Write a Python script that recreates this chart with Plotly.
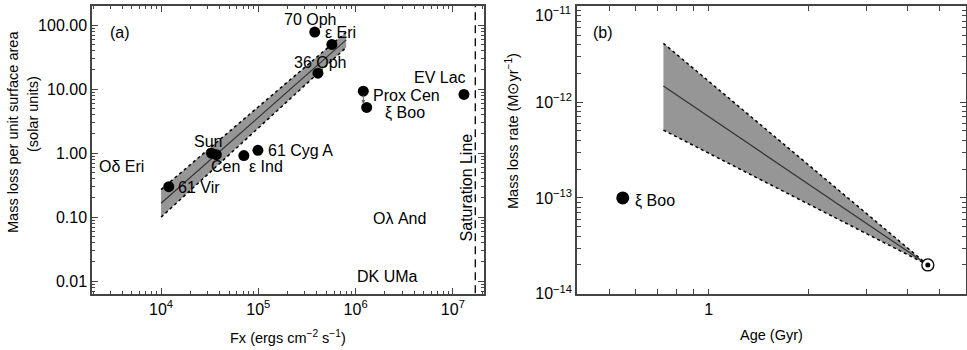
import math
import plotly.graph_objects as go

# ---------------- Panel (a) data ----------------
a_names = ["70 Oph", "ε Eri", "36 Oph", "Prox Cen", "ξ Boo", "EV Lac",
           "Sun", "Cen", "ε Ind", "61 Cyg A", "61 Vir"]
a_fx = [3.8e5, 5.7e5, 4.1e5, 1.2e6, 1.3e6, 1.3e7, 3.3e4, 3.7e4, 7.1e4, 9.9e4, 1.2e4]
a_mdot = [78, 50, 17.8, 9.3, 5.2, 8.3, 1.0, 0.95, 0.92, 1.11, 0.30]

fit_fx = [1e4, 8e5]
fit_mid = [0.165, 59]
fit_lo = [0.10, 45]
fit_hi = [0.27, 78]

saturation_fx = 1.7e7

# text-only stars: (label, Fx, mass loss)
a_text_names = ["Oδ Eri", "Oλ And", "DK UMa"]
a_text_fx = [10**3.59, 10**6.45, 10**6.33]
a_text_mdot = [10**-0.2, 10**-1.02, 10**-1.92]

a_ytick_vals = [0.01, 0.1, 1, 10, 100]
a_ytick_text = ["0.01", "0.10", "1.00", "10.00", "100.00"]
a_xtick_vals = [1e4, 1e5, 1e6, 1e7]
a_xtick_text = ["10<sup>4</sup>", "10<sup>5</sup>", "10<sup>6</sup>", "10<sup>7</sup>"]

# ---------------- Panel (b) data ----------------
b_fit_age = [0.73, 4.6]
b_fit_mid = [1.47e-12, 2.0e-14]
b_fit_hi = [4.1e-12, 2.0e-14]
b_fit_lo = [5.1e-13, 2.0e-14]

b_xi_age = [0.55]
b_xi_mdot = [1.0e-13]
b_sun_age = [4.6]
b_sun_mdot = [2.0e-14]

b_ytick_vals = [1e-14, 1e-13, 1e-12, 1e-11]
b_ytick_text = ["10<sup>−14</sup>", "10<sup>−13</sup>", "10<sup>−12</sup>", "10<sup>−11</sup>"]
b_xtick_vals = [1]
b_xtick_text = ["1"]

# ---------------- styling ----------------
FONT = "Liberation Sans, Arial, Helvetica, sans-serif"
BAND = "rgb(150,150,150)"
AXC = "#444444"

fig = go.Figure()

# Panel (a) band
fig.add_trace(go.Scatter(x=fit_fx + fit_fx[::-1], y=fit_hi + fit_lo[::-1],
                         fill="toself", fillcolor=BAND, line=dict(width=0),
                         mode="lines", hoverinfo="skip", xaxis="x", yaxis="y"))
for edge in (fit_hi, fit_lo):
    fig.add_trace(go.Scatter(x=fit_fx, y=edge, mode="lines",
                             line=dict(color="black", width=1.5, dash="dot"),
                             xaxis="x", yaxis="y"))
fig.add_trace(go.Scatter(x=fit_fx, y=fit_mid, mode="lines",
                         line=dict(color="#333333", width=1.2), xaxis="x", yaxis="y"))
# saturation line
fig.add_trace(go.Scatter(x=[saturation_fx, saturation_fx], y=[1e-3, 1e3], mode="lines",
                         line=dict(color="black", width=1.3, dash="8px,5px"),
                         xaxis="x", yaxis="y"))
# points
fig.add_trace(go.Scatter(x=a_fx, y=a_mdot, mode="markers",
                         marker=dict(color="black", size=11),
                         xaxis="x", yaxis="y"))

# Panel (b) band
fig.add_trace(go.Scatter(x=b_fit_age + b_fit_age[::-1], y=b_fit_hi + b_fit_lo[::-1],
                         fill="toself", fillcolor=BAND, line=dict(width=0),
                         mode="lines", hoverinfo="skip", xaxis="x2", yaxis="y2"))
for edge in (b_fit_hi, b_fit_lo):
    fig.add_trace(go.Scatter(x=b_fit_age, y=edge, mode="lines",
                             line=dict(color="black", width=1.5, dash="dot"),
                             xaxis="x2", yaxis="y2"))
fig.add_trace(go.Scatter(x=b_fit_age, y=b_fit_mid, mode="lines",
                         line=dict(color="#333333", width=1.2), xaxis="x2", yaxis="y2"))
fig.add_trace(go.Scatter(x=b_xi_age, y=b_xi_mdot, mode="markers",
                         marker=dict(color="black", size=13), xaxis="x2", yaxis="y2"))
fig.add_trace(go.Scatter(x=b_sun_age, y=b_sun_mdot, mode="markers",
                         marker=dict(color="white", size=12, line=dict(color="black", width=1.3)),
                         xaxis="x2", yaxis="y2"))
fig.add_trace(go.Scatter(x=b_sun_age, y=b_sun_mdot, mode="markers",
                         marker=dict(color="black", size=5), xaxis="x2", yaxis="y2"))

# ---------------- annotations ----------------
ann = []
lg = math.log10
TXT = dict(size=16, color="black", family=FONT)
TTL = dict(size=14.5, color="black", family=FONT)
# label offsets (pixels): name -> (xanchor, xshift, yshift)
a_label_pos = {
    "70 Oph": ("center", -5, 13),
    "ε Eri": ("left", -9, 12),
    "36 Oph": ("center", 2, 11),
    "Prox Cen": ("left", 8, -4),
    "ξ Boo": ("left", 16, -6),
    "EV Lac": ("right", 4, 17),
    "Sun": ("center", -4, 12),
    "Cen": ("center", 9, -12),
    "ε Ind": ("left", 3, -11),
    "61 Cyg A": ("left", 8, 0),
    "61 Vir": ("left", 7, -1),
}
for name, fx, md in zip(a_names, a_fx, a_mdot):
    xa, xs, ys = a_label_pos[name]
    ann.append(dict(x=lg(fx), y=lg(md), xref="x", yref="y", text=name, showarrow=False,
                    xanchor=xa, yanchor="middle", xshift=xs, yshift=ys, font=TXT))
for name, fx, md in zip(a_text_names, a_text_fx, a_text_mdot):
    ann.append(dict(x=lg(fx), y=lg(md), xref="x", yref="y", text=name, showarrow=False,
                    xanchor="center", yanchor="middle", font=TXT))
# Prox Cen down arrow
prox_i = a_names.index("Prox Cen")
ann.append(dict(x=lg(a_fx[prox_i]), y=lg(a_mdot[prox_i]) - 0.2, xref="x", yref="y",
                text="", showarrow=True, ax=0, ay=-10, arrowhead=2, arrowsize=0.8,
                arrowwidth=1, arrowcolor="#666666"))
# Saturation line label
ann.append(dict(x=lg(saturation_fx), y=lg(1.0) - 0.53, xref="x", yref="y", text="Saturation Line",
                showarrow=False, textangle=-90, xanchor="center", yanchor="middle", xshift=-9,
                font=TXT))
# panel letters
ann.append(dict(x=0.124, y=0.908, xref="paper", yref="paper", text="(a)", showarrow=False,
                xanchor="center", yanchor="middle", font=TXT))
ann.append(dict(x=0.6235, y=0.908, xref="paper", yref="paper", text="(b)", showarrow=False,
                xanchor="center", yanchor="middle", font=TXT))
# xi Boo in panel b
ann.append(dict(x=lg(b_xi_age[0]), y=lg(b_xi_mdot[0]), xref="x2", yref="y2", text="ξ Boo",
                showarrow=False, xanchor="left", yanchor="middle", xshift=10, yshift=-3,
                font=TXT))
# top tick label of panel (b), nudged down so it stays inside the page
ann.append(dict(x=lg(0.4), y=lg(b_ytick_vals[-1]), xref="x2", yref="y2", text=b_ytick_text[-1],
                showarrow=False, xanchor="right", yanchor="top", xshift=-4, yshift=4,
                font=TXT))
# axis titles
ann.append(dict(x=13 / 967, y=1 - 132 / 350, xref="paper", yref="paper",
                text="Mass loss per unit surface area", showarrow=False,
                textangle=-90, xanchor="center", yanchor="middle", font=TTL))
ann.append(dict(x=33 / 967, y=1 - 114 / 350, xref="paper", yref="paper",
                text="(solar units)", showarrow=False,
                textangle=-90, xanchor="center", yanchor="middle", font=TTL))
ann.append(dict(x=288 / 967, y=13 / 350, xref="paper", yref="paper",
                text="Fx (ergs cm<sup>−2</sup> s<sup>−1</sup>)", showarrow=False,
                xanchor="center", yanchor="middle", font=TTL))
ann.append(dict(x=512 / 967, y=1 - 131 / 350, xref="paper", yref="paper",
                text="Mass loss rate (M⊙yr<sup>−1</sup>)", showarrow=False,
                textangle=-90, xanchor="center", yanchor="middle", font=TTL))
ann.append(dict(x=771 / 967, y=15 / 350, xref="paper", yref="paper",
                text="Age (Gyr)", showarrow=False,
                xanchor="center", yanchor="middle", font=TTL))


def log_minor(lo_exp, hi_exp):
    vals = []
    for e in range(lo_exp, hi_exp + 1):
        for m in range(2, 10):
            vals.append(m * 10.0 ** e)
    return vals


def axis_common():
    return dict(type="log", showgrid=False, zeroline=False, showline=True, linecolor=AXC,
                linewidth=1.5, mirror="ticks", ticks="inside", ticklen=6, tickwidth=1.2,
                tickcolor=AXC, tickfont=dict(size=16, color="black", family=FONT),
                tickmode="array", ticklabeloverflow="allow", automargin=False)


xa = axis_common()
xa.update(domain=[92 / 967, 484 / 967], range=[3.29, 7.32], anchor="y",
          tickvals=a_xtick_vals, ticktext=a_xtick_text,
          minor=dict(tickmode="array", tickvals=log_minor(3, 7), ticks="inside", ticklen=3,
                     tickcolor=AXC, tickwidth=1))
ya = axis_common()
ya.update(domain=[56 / 350, 344 / 350], range=[-2.2, 2.3], anchor="x",
          tickvals=a_ytick_vals, ticktext=a_ytick_text,
          minor=dict(tickmode="array", tickvals=log_minor(-3, 2), ticks="inside", ticklen=3,
                     tickcolor=AXC, tickwidth=1))
xb = axis_common()
xb.update(domain=[577 / 967, 966 / 967], range=[math.log10(0.4), math.log10(6)], anchor="y2",
          tickvals=b_xtick_vals, ticktext=b_xtick_text, ticklen=5,
          minor=dict(tickmode="array", tickvals=[0.5, 0.6, 0.7, 0.8, 0.9, 2, 3, 4, 5],
                     ticks="inside", ticklen=5, tickcolor=AXC, tickwidth=1))
yb = axis_common()
yb.update(domain=[56 / 350, 344 / 350], range=[-14.002, -10.998], anchor="x2",
          tickvals=b_ytick_vals, ticktext=b_ytick_text[:-1] + [""],
          minor=dict(tickmode="array", tickvals=log_minor(-14, -12), ticks="inside", ticklen=4,
                     tickcolor=AXC, tickwidth=1))

fig.update_layout(
    width=967, height=350, margin=dict(l=0, r=0, t=0, b=0, autoexpand=False),
    paper_bgcolor="white", plot_bgcolor="white", showlegend=False,
    font=dict(family=FONT, size=15, color="black"),
    xaxis=xa, yaxis=ya, xaxis2=xb, yaxis2=yb, annotations=ann,
)

fig.write_html("out.html", config={"displayModeBar": False},
               post_script="document.body.style.margin='0';document.body.style.overflow='hidden';")
